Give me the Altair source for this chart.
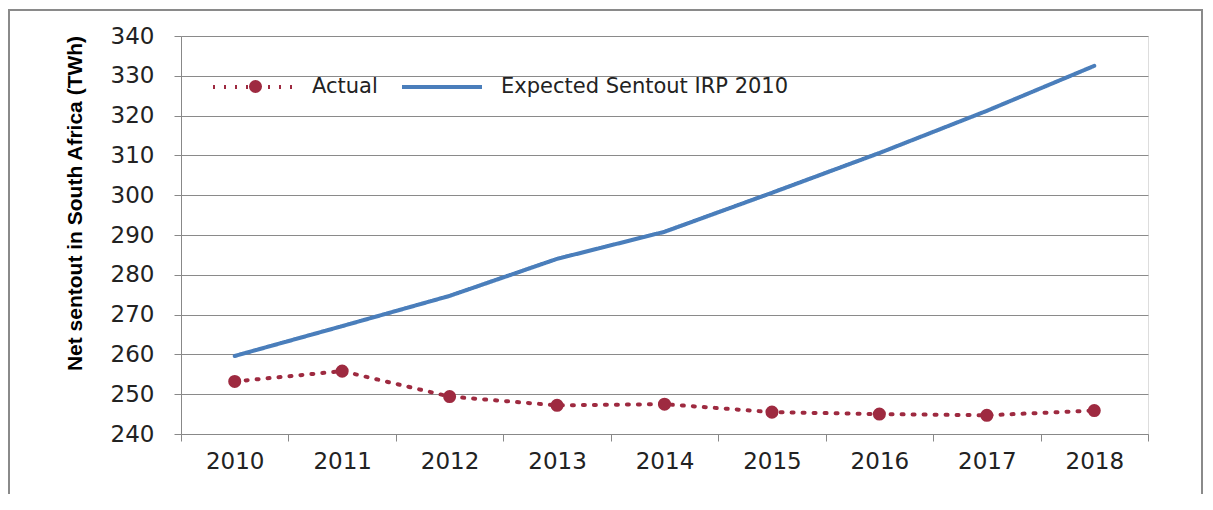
import altair as alt
import pandas as pd

years = ["2010", "2011", "2012", "2013", "2014", "2015", "2016", "2017", "2018"]
actual = [253.2, 255.8, 249.4, 247.2, 247.5, 245.5, 245.0, 244.7, 245.9]
expected = [259.6, 267.1, 274.7, 284.0, 290.8, 300.6, 310.6, 321.2, 332.5]
series_names = ["Actual", "Expected Sentout IRP 2010"]
y_ticks = [240, 250, 260, 270, 280, 290, 300, 310, 320, 330, 340]

rows = []
for y, a, e in zip(years, actual, expected):
    rows.append({"year": y, "value": a, "series": series_names[0]})
    rows.append({"year": y, "value": e, "series": series_names[1]})
df = pd.DataFrame(rows)

RED = "#9E2A40"
BLUE = "#4A7EBB"

x_axis = alt.Axis(
    title=None,
    labelAngle=0,
    tickBand="extent",
    tickSize=7,
    tickColor="#888888",
    domainColor="#888888",
    labelFont="DejaVu Sans",
    labelFontSize=23,
    labelColor="#222222",
    labelPadding=9,
    grid=False,
)
y_axis = alt.Axis(
    values=y_ticks,
    tickCount=len(y_ticks) + 2,
    labelOverlap=False,
    title="Net sentout in South Africa (TWh)",
    titleFont="Liberation Sans",
    titleFontSize=21,
    titleFontWeight="bold",
    titleColor="#000000",
    titleAngle=-90,
    titleX=-106,
    titleY=167,
    titleAlign="center",
    titleBaseline="middle",
    tickSize=7,
    tickColor="#888888",
    domainColor="#888888",
    gridColor="#8a8a8a",
    gridWidth=1,
    labelFont="DejaVu Sans",
    labelFontSize=23,
    labelColor="#222222",
    labelPadding=20,
)

x_scale = alt.Scale(type="band", paddingInner=0, paddingOuter=0)
y_scale = alt.Scale(domain=[240, 340], nice=False, zero=False)

color_scale = alt.Scale(domain=series_names, range=[RED, BLUE])
dash_scale = alt.Scale(domain=series_names, range=[[2, 9], [1, 0]])

lines = alt.Chart(df).mark_line(strokeWidth=4, strokeCap="round").encode(
    x=alt.X("year:N", sort=years, scale=x_scale, axis=x_axis),
    y=alt.Y("value:Q", scale=y_scale, axis=y_axis),
    color=alt.Color("series:N", scale=color_scale, sort=series_names,
                    legend=alt.Legend(
                        title=None,
                        orient="none",
                        legendX=30,
                        legendY=9,
                        direction="horizontal",
                        symbolType="stroke",
                        symbolSize=6400,
                        symbolStrokeWidth=4,
                        labelFont="DejaVu Sans",
                        labelFontSize=21,
                        labelColor="#222222",
                        labelOffset=17,
                        labelLimit=0,
                        columnPadding=16,
                    )),
    strokeDash=alt.StrokeDash("series:N", scale=dash_scale, sort=series_names, legend=None),
)

points = alt.Chart(df[df["series"] == series_names[0]]).mark_circle(
    size=170, opacity=1
).encode(
    x=alt.X("year:N", sort=years, scale=x_scale, axis=x_axis),
    y=alt.Y("value:Q", scale=y_scale, axis=y_axis),
    fill=alt.Fill("series:N", scale=alt.Scale(domain=[series_names[0]], range=[RED]),
                  legend=alt.Legend(
                      title=None,
                      orient="none",
                      legendX=64,
                      legendY=40,
                      symbolType="circle",
                      symbolSize=170,
                      symbolStrokeWidth=0,
                      symbolOpacity=1,
                      labelFont="DejaVu Sans",
                      labelFontSize=21,
                      labelExpr="''",
                  )),
)

frame = alt.Chart(pd.DataFrame({"a": [0]})).mark_rect(
    fill=None, stroke="#8a8a8a", strokeWidth=2, clip=False
).encode(
    x=alt.value(-172), x2=alt.value(1021), y=alt.value(-26), y2=alt.value(700)
)

chart = alt.layer(lines, points, frame).properties(
    width=967,
    height=398,
    autosize=alt.AutoSizeParams(type="none"),
    padding={"left": 173, "top": 28, "right": 56, "bottom": 60},
).configure_view(stroke=None).configure(background="white")

chart.save("out.html", embed_options={"renderer": "svg", "actions": False})
